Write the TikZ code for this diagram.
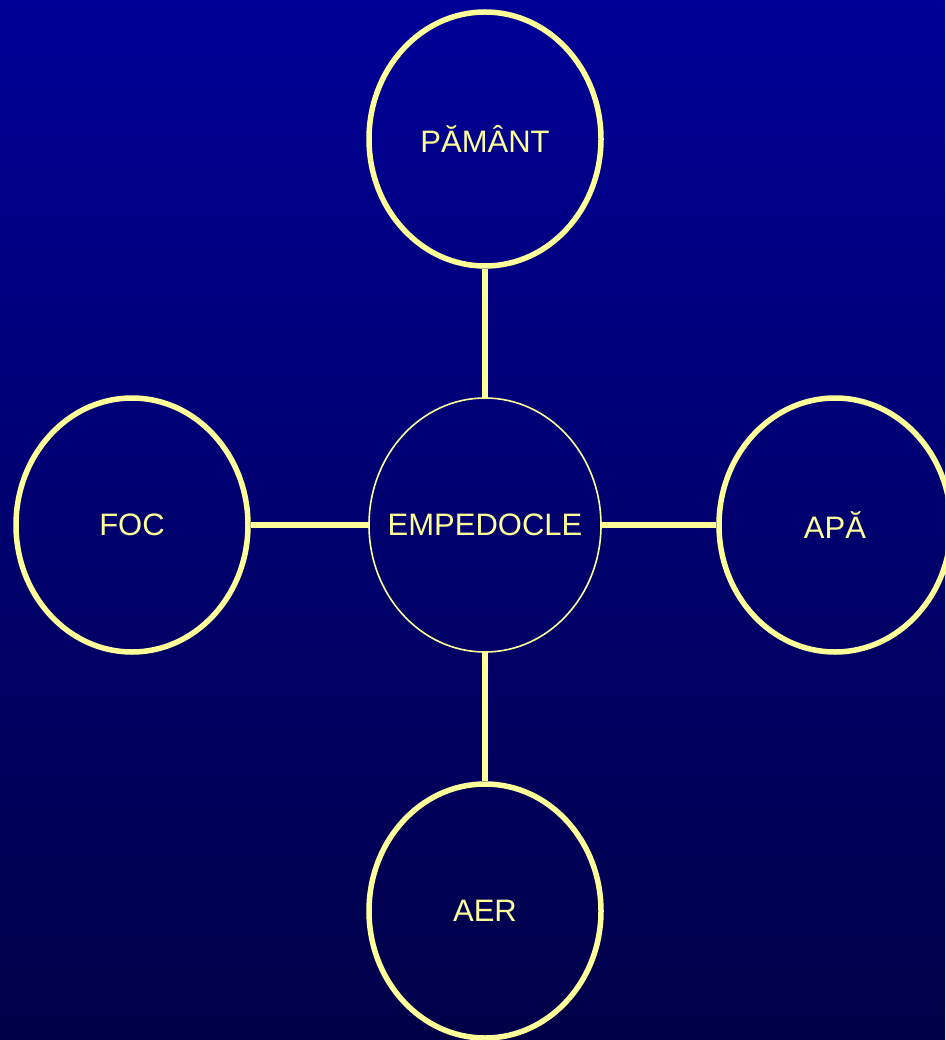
\documentclass[tikz,border=0pt]{standalone}
\usepackage{fontspec}
\setmainfont{Liberation Sans}
\usetikzlibrary{shapes.geometric}
\definecolor{bgtop}{RGB}{0,0,150}
\definecolor{bgbot}{RGB}{0,0,72}
\definecolor{yel}{RGB}{255,255,153}
\newcommand{\zw}[1]{\makebox[0pt][c]{#1}}
\tikzset{
  elem/.style={ellipse, draw=yel, line width=5.5pt, minimum width=232pt, minimum height=254pt, inner sep=0pt, text=yel, font=\fontsize{31}{36}\selectfont},
  center/.style={elem, line width=1.6pt},
  link/.style={draw=yel, line width=5.5pt}
}
\begin{document}
\begin{tikzpicture}[x=1pt,y=-1pt]
\shade[top color=bgtop, bottom color=bgbot] (0,0) rectangle (945,1040);
\useasboundingbox (0,0) rectangle (945,1040);
\node[center] (emp) at (485,525) {\zw{EMPEDOCLE}};
\node[elem] (pam) at (485,139) {\zw{PĂMÂNT}};
\node[elem] (foc) at (132,525) {\zw{FOC}};
\node[elem] (apa) at (835,525) {\zw{APĂ}};
\node[elem] (aer) at (485,911) {\zw{AER}};
\draw[link] (emp) -- (pam);
\draw[link] (emp) -- (foc);
\draw[link] (emp) -- (apa);
\draw[link] (emp) -- (aer);
\end{tikzpicture}
\end{document}
